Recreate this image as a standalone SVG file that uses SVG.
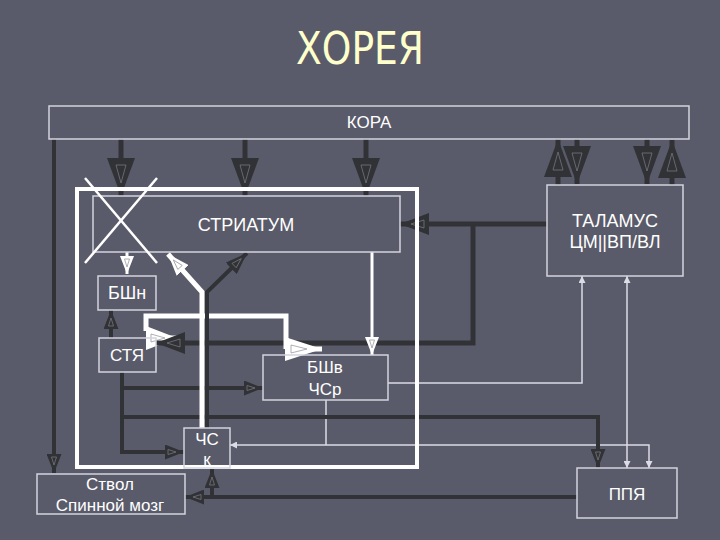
<svg xmlns="http://www.w3.org/2000/svg" width="720" height="540" viewBox="0 0 720 540">
<style>
  .bg { fill: #5a5b6a; }
  .box { fill: none; stroke: #d4d4de; stroke-width: 1.5; }
  .frame { fill: none; stroke: #ffffff; stroke-width: 4; }
  .lbl { fill: #ffffff; font-family: "Liberation Sans", Arial, sans-serif; text-anchor: middle; }
  .dk { fill: none; stroke: #313236; stroke-width: 5; }
  .dk4 { fill: none; stroke: #313236; stroke-width: 4; }
  .wt { fill: none; stroke: #ffffff; stroke-width: 5; }
  .wt3 { fill: none; stroke: #ffffff; stroke-width: 3; }
  .thin { fill: none; stroke: #dcdce6; stroke-width: 1.5; }
  .cross { stroke: #ffffff; stroke-width: 2.5; }
  .ahd { fill: #313236; }
  .ahw { fill: #ffffff; }
  .inner { fill: none; stroke: #75767e; stroke-width: 0.8; }
  .innerw { fill: none; stroke: #9a9aa4; stroke-width: 0.8; }
</style>
<defs>
  <marker id="bigD" markerUnits="userSpaceOnUse" viewBox="0 -14 38 28" refX="38" refY="0" markerWidth="38" markerHeight="28" orient="auto">
    <path class="ahd" d="M0,-14 L38,0 L0,14 Z"/>
    <path class="inner" d="M7,-5 L25,0 L7,5 Z"/>
  </marker>
  <marker id="medD" markerUnits="userSpaceOnUse" viewBox="0 -11 29 22" refX="29" refY="0" markerWidth="29" markerHeight="22" orient="auto">
    <path class="ahd" d="M0,-11 L29,0 L0,11 Z"/>
    <path class="inner" d="M5,-4 L18,0 L5,4 Z"/>
  </marker>
  <marker id="midD" markerUnits="userSpaceOnUse" viewBox="0 -8 22 16" refX="22" refY="0" markerWidth="22" markerHeight="16" orient="auto">
    <path class="ahd" d="M0,-8 L22,0 L0,8 Z"/>
    <path class="inner" d="M4,-3 L14,0 L4,3 Z"/>
  </marker>
  <marker id="smD" markerUnits="userSpaceOnUse" viewBox="0 -7.5 19 15" refX="19" refY="0" markerWidth="19" markerHeight="15" orient="auto">
    <path class="ahd" d="M0,-7.5 L19,0 L0,7.5 Z"/>
    <path class="inner" d="M3,-2.5 L11,0 L3,2.5 Z"/>
  </marker>
  <marker id="midW" markerUnits="userSpaceOnUse" viewBox="0 -8 22 16" refX="22" refY="0" markerWidth="22" markerHeight="16" orient="auto">
    <path class="ahw" d="M0,-8 L22,0 L0,8 Z"/>
    <path class="innerw" d="M4,-3 L14,0 L4,3 Z"/>
  </marker>
  <marker id="bigW" markerUnits="userSpaceOnUse" viewBox="0 -12 37 24" refX="37" refY="0" markerWidth="37" markerHeight="24" orient="auto">
    <path class="ahw" d="M0,-12 L37,0 L0,12 Z"/>
    <path class="innerw" d="M6,-4 L22,0 L6,4 Z"/>
  </marker>
  <marker id="bigW2" markerUnits="userSpaceOnUse" viewBox="0 -12 31 24" refX="31" refY="0" markerWidth="31" markerHeight="24" orient="auto">
    <path class="ahw" d="M0,-12 L31,0 L0,12 Z"/>
    <path class="innerw" d="M5,-4 L19,0 L5,4 Z"/>
  </marker>
  <marker id="smW" markerUnits="userSpaceOnUse" viewBox="0 -7 18 14" refX="18" refY="0" markerWidth="18" markerHeight="14" orient="auto">
    <path class="ahw" d="M0,-7 L18,0 L0,7 Z"/>
    <path class="innerw" d="M3,-2.5 L11,0 L3,2.5 Z"/>
  </marker>
  <marker id="tiny" markerUnits="userSpaceOnUse" viewBox="0 -3.5 7 7" refX="7" refY="0" markerWidth="7" markerHeight="7" orient="auto-start-reverse">
    <path fill="#dcdce6" d="M0,-3.5 L7,0 L0,3.5 Z"/>
  </marker>
</defs>

<rect class="bg" x="0" y="0" width="720" height="540"/>

<text x="360" y="64" font-family="'DejaVu Sans', Verdana, sans-serif" font-size="44" fill="#ffffcc" text-anchor="middle" textLength="128" lengthAdjust="spacingAndGlyphs">ХОРЕЯ</text>

<g id="connectors">
  <!-- КОРА down to striatum -->
  <path class="dk" d="M121,139 V196" marker-end="url(#bigD)"/>
  <path class="dk" d="M245,139 V196" marker-end="url(#bigD)"/>
  <path class="dk" d="M366,139 V196" marker-end="url(#bigD)"/>
  <!-- КОРА to Ствол -->
  <path class="dk4" d="M54,139 V473" marker-end="url(#smD)"/>
  <!-- thalamus <-> cortex -->
  <path class="dk" d="M558,185 V139" marker-end="url(#bigD)"/>
  <path class="dk" d="M577,139 V184" marker-end="url(#bigD)"/>
  <path class="dk" d="M647,139 V184" marker-end="url(#bigD)"/>
  <path class="dk" d="M672,185 V140" marker-end="url(#bigD)"/>
  <!-- thin lines -->
  <path class="thin" d="M388,383 H582 V276" marker-end="url(#tiny)"/>
  <path class="thin" d="M627,276 V468" marker-start="url(#tiny)" marker-end="url(#tiny)"/>
  <path class="thin" d="M230,445 H649 V468" marker-start="url(#tiny)" marker-end="url(#tiny)"/>
  <path class="thin" d="M326,400 V445"/>
  <!-- thalamus to striatum and branch to СТЯ -->
  <path class="dk" d="M547,224 H400" marker-end="url(#medD)"/>
  <path class="wt" d="M146,338 H177" marker-end="url(#bigW2)"/>
  <path class="dk" d="M473,224 V343 H156" marker-end="url(#medD)"/>
  <!-- white elbow to БШв -->
  <path class="wt" d="M146,331 V316 H286 V349"/>
  <path class="wt" d="M286,349 H322" marker-end="url(#bigW)"/>
  <!-- striatum to БШн and БШв -->
  <path class="wt3" d="M127,252 V274" marker-end="url(#smW)"/>
  <path class="wt3" d="M372,252 V355" marker-end="url(#smW)"/>
  <!-- СТЯ outputs -->
  <path class="dk4" d="M111,338 V310" marker-end="url(#smD)"/>
  <path class="dk4" d="M122,372 V452 H184" marker-end="url(#smD)"/>
  <path class="dk4" d="M122,388 H263" marker-end="url(#smD)"/>
  <path class="dk4" d="M122,417 H598 V468" marker-end="url(#smD)"/>
  <!-- ЧСк to striatum -->
  <path class="wt" d="M202,428 V292 L168,254" marker-end="url(#midW)"/>
  <path class="dk4" d="M207,428 V292 L247,253" marker-end="url(#midD)"/>
  <!-- ППЯ to Ствол and ЧСк -->
  <path class="dk4" d="M577,497 H185" marker-end="url(#smD)"/>
  <path class="dk4" d="M212,497 V469" marker-end="url(#smD)"/>
</g>

<g id="frame">
  <rect class="frame" x="77" y="189" width="340" height="278"/>
</g>

<g id="kora">
  <rect class="box" x="49" y="106" width="640" height="33"/>
  <text class="lbl" x="369" y="128" font-size="17">КОРА</text>
</g>

<g id="striatum">
  <rect class="box" x="93" y="196" width="307" height="56"/>
  <text class="lbl" x="246" y="231" font-size="18">СТРИАТУМ</text>
  <line class="cross" x1="85" y1="178" x2="157" y2="263"/>
  <line class="cross" x1="157" y1="178" x2="85" y2="263"/>
</g>

<g id="thalamus">
  <rect class="box" x="547" y="185" width="136" height="91"/>
  <text class="lbl" x="615" y="227" font-size="18">ТАЛАМУС</text>
  <text class="lbl" x="615" y="248" font-size="18">ЦМ||ВП/ВЛ</text>
</g>

<g id="bshn">
  <rect class="box" x="98" y="276" width="58" height="34"/>
  <text class="lbl" x="127" y="299" font-size="18">БШн</text>
</g>

<g id="stya">
  <rect class="box" x="99" y="338" width="57" height="34"/>
  <text class="lbl" x="127" y="361" font-size="17">СТЯ</text>
</g>

<g id="bshv">
  <rect class="box" x="263" y="355" width="125" height="45"/>
  <text class="lbl" x="325" y="373" font-size="17">БШв</text>
  <text class="lbl" x="325" y="395" font-size="17">ЧСр</text>
</g>

<g id="chsk">
  <rect class="box" x="184" y="428" width="46" height="40"/>
  <text class="lbl" x="207" y="445" font-size="17">ЧС</text>
  <text class="lbl" x="207" y="465" font-size="17">к</text>
</g>

<g id="stvol">
  <rect class="box" x="37" y="474" width="148" height="40"/>
  <text class="lbl" x="110" y="490" font-size="17">Ствол</text>
  <text class="lbl" x="110" y="511" font-size="17">Спинной мозг</text>
</g>

<g id="ppya">
  <rect class="box" x="577" y="468" width="100" height="50"/>
  <text class="lbl" x="627" y="500" font-size="17">ППЯ</text>
</g>
</svg>
